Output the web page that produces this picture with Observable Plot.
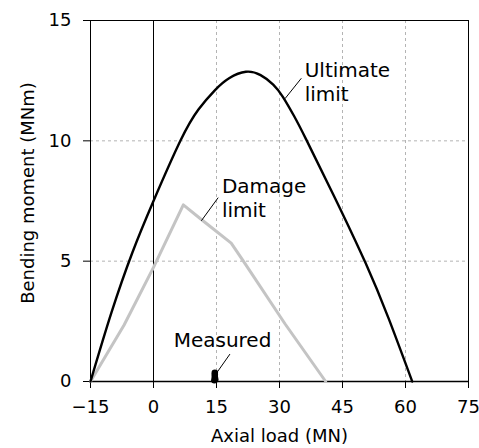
<!DOCTYPE html>
<html>
<head>
<meta charset="utf-8">
<script src="https://cdn.jsdelivr.net/npm/d3@7"></script>
<script src="https://cdn.jsdelivr.net/npm/@observablehq/plot@0.6"></script>
<style>
  html, body { margin: 0; padding: 0; background: #fff; }
</style>
</head>
<body>
<div id="chart"></div>
<script>
// Axis ticks
const xTicks = [-15, 0, 15, 30, 45, 60, 75];
const yTicks = [0, 5, 10, 15];
const gridX = [15, 30, 45, 60];
const gridY = [5, 10];

// Ultimate limit curve (axial load MN, bending moment MNm)
const ultimateX = [-15, -10, -5, 0, 6.4, 10.7, 14.6, 18, 22, 25.5, 28.5, 30.8, 33.5, 36.4, 43, 50.5, 56, 61.6];
const ultimateY = [0, 2.87, 5.37, 7.5, 10, 11.3, 12.1, 12.6, 12.87, 12.73, 12.34, 11.83, 11.02, 10.04, 7.7, 4.92, 2.61, 0];

// Damage limit curve
const damageX = [-15, -7, 0, 7.1, 11.4, 18.5, 21.4, 31.3, 41];
const damageY = [0, 2.35, 4.74, 7.34, 6.73, 5.75, 5.0, 2.4, 0];

// Measured points
const measuredX = [14.5, 14.7, 14.6, 14.6, 14.6];
const measuredY = [0.05, 0.08, 0.18, 0.28, 0.36];

// Annotations
const labelText = ["Ultimate\nlimit", "Damage\nlimit", "Measured"];
const labelX = [36.0, 16.3, 4.8];
const labelY = [11.66, 6.84, 1.44];
const leaderX1 = [35.2, 15.4, 18.2];
const leaderY1 = [12.6, 7.64, 1.14];
const leaderX2 = [31.3, 11.4, 14.85];
const leaderY2 = [11.75, 6.68, 0.31];

const ultimate = ultimateX.map((x, i) => ({x, y: ultimateY[i]}));
const damage = damageX.map((x, i) => ({x, y: damageY[i]}));
const measured = measuredX.map((x, i) => ({x, y: measuredY[i]}));
const labels = labelText.map((t, i) => ({t, x: labelX[i], y: labelY[i]}));
const leaders = leaderX1.map((x1, i) => ({x1, y1: leaderY1[i], x2: leaderX2[i], y2: leaderY2[i]}));

const chart = Plot.plot({
  width: 479,
  height: 448,
  marginLeft: 90,
  marginRight: 11,
  marginTop: 20,
  marginBottom: 67,
  style: {fontFamily: "DejaVu Sans", fontSize: "18px", background: "#fff", color: "#000"},
  x: {domain: [-15, 75], ticks: xTicks, tickSize: 7, tickPadding: 12, label: null},
  y: {domain: [0, 15], ticks: yTicks, tickSize: 7, tickPadding: 12, label: null},
  marks: [
    Plot.ruleX(gridX, {stroke: "#b4b4b4", strokeDasharray: "3,3", strokeWidth: 1}),
    Plot.ruleY(gridY, {stroke: "#b4b4b4", strokeDasharray: "3,3", strokeWidth: 1}),
    Plot.ruleX([0], {stroke: "#000", strokeWidth: 1}),
    Plot.frame({stroke: "#000", strokeWidth: 1}),
    Plot.ruleY([0], {stroke: "#000", strokeWidth: 1.6}),
    Plot.line(damage, {x: "x", y: "y", stroke: "#c4c4c4", strokeWidth: 3}),
    Plot.line(ultimate, {x: "x", y: "y", stroke: "#000", strokeWidth: 2.4, curve: "natural"}),
    Plot.dot(measured, {x: "x", y: "y", r: 3.3, fill: "#000", stroke: "none"}),
    Plot.link(leaders, {x1: "x1", y1: "y1", x2: "x2", y2: "y2", stroke: "#000", strokeWidth: 1}),
    Plot.text(labels, {x: "x", y: "y", text: "t", textAnchor: "start", lineAnchor: "bottom", lineHeight: 1.17, fontSize: 20, fill: "#000"}),
    Plot.text(["Axial load (MN)"], {frameAnchor: "bottom", dy: 60, lineAnchor: "bottom", fontSize: 18, fill: "#000"}),
    Plot.text(["Bending moment (MNm)"], {frameAnchor: "left", textAnchor: "middle", dx: -57, dy: -8, rotate: -90, lineAnchor: "bottom", fontSize: 18, fill: "#000"})
  ]
});
document.getElementById("chart").append(chart);
</script>
</body>
</html>
